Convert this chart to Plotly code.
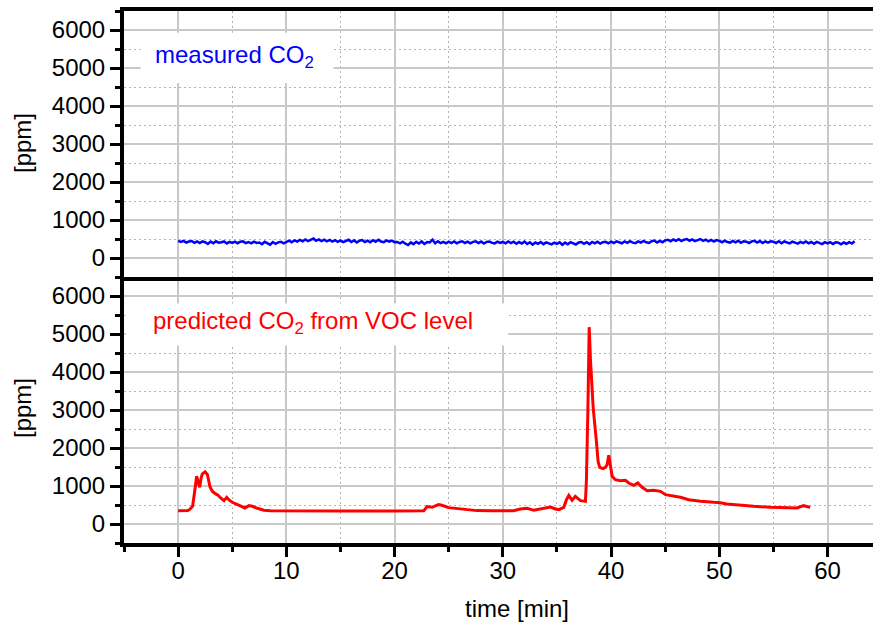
import numpy as np
import plotly.graph_objects as go

# ---------------- data ----------------
# measured CO2 (top panel), sampled every 0.25 min from 0 to 62.5 min
meas_t = [i * 0.25 for i in range(251)]
meas_ppm = [
    450, 422, 451, 408, 435, 447, 400, 438, 392, 436, 415, 370, 431, 388, 440, 402, 415, 436, 384, 425,
    398, 432, 389, 427, 438, 392, 421, 385, 430, 396, 408, 362, 425, 380, 352, 420, 374, 411, 428, 385,
    432, 458, 416, 465, 430, 478, 442, 486, 445, 480, 512, 452, 490, 445, 482, 438, 476, 430, 468, 425,
    462, 418, 456, 480, 422, 465, 408, 455, 472, 420, 458, 415, 468, 426, 480, 432, 415, 462, 428, 456,
    418, 422, 388, 430, 376, 340, 412, 366, 425, 382, 435, 370, 418, 408, 482, 385, 438, 392, 425, 388,
    428, 392, 435, 386, 422, 440, 395, 430, 388, 425, 438, 392, 432, 380, 424, 436, 398, 385, 430, 395,
    422, 386, 435, 390, 428, 375, 420, 382, 430, 368, 415, 352, 408, 376, 422, 365, 412, 380, 358, 405,
    370, 412, 348, 405, 362, 416, 378, 355, 408, 420, 372, 414, 365, 422, 386, 430, 378, 415, 425, 388,
    430, 395, 438, 402, 388, 435, 400, 442, 405, 392, 438, 408, 450, 412, 395, 440, 458, 410, 448, 415,
    465, 480, 438, 486, 452, 495, 448, 482, 500, 455, 488, 442, 480, 498, 450, 485, 440, 478, 435, 472,
    450, 415, 458, 420, 405, 448, 412, 455, 400, 442, 430, 395, 438, 452, 408, 445, 392, 436, 402, 440,
    428, 395, 440, 388, 435, 402, 385, 430, 398, 378, 425, 392, 436, 386, 420, 375, 422, 388, 365, 415,
    382, 418, 370, 412, 405, 362, 408, 375, 416, 380, 440,
]

# predicted CO2 from VOC level (bottom panel)
pred_t = [
    0, 0.5, 0.9, 1.1, 1.34, 1.55, 1.71, 1.85, 1.99, 2.12, 2.24, 2.49, 2.7, 2.95, 3.16, 3.47, 3.69,
    3.93, 4.24, 4.49, 4.7, 5.0, 5.47, 5.93, 6.17, 6.54, 6.85, 7.31, 7.92, 8.54, 10, 15, 20, 22.7,
    23.0, 23.45, 24.06, 24.37, 24.99, 25.76, 26.7, 27.6, 29, 31.0, 31.6, 32.25, 32.86, 33.48, 34.1,
    34.4, 34.86, 35.17, 35.63, 35.88, 36.1, 36.4, 36.7, 37.17, 37.63, 37.72, 37.85, 37.98, 38.1,
    38.35, 38.64, 38.8, 38.95, 39.26, 39.48, 39.63, 39.79, 39.94, 40.1, 40.4, 40.86, 41.33, 41.63,
    42.1, 42.47, 42.87, 43.33, 43.95, 44.56, 45.03, 45.64, 46.41, 47.18, 48.26, 49.49, 50.1, 50.7,
    51.94, 53.17, 54.71, 56.25, 57.17, 57.79, 58.4,
]
pred_ppm = [
    350, 350, 355, 390, 470, 900, 1258, 1100, 968, 1200, 1320, 1373, 1302, 977, 862, 792, 757,
    686, 616, 704, 634, 572, 510, 449, 422, 484, 466, 414, 361, 350, 345, 345, 345, 350,
    458, 440, 510, 493, 431, 405, 370, 352, 350, 351, 395, 412, 360, 395, 421,
    447, 395, 377, 438, 640, 754, 623, 728, 614, 596, 1123, 2877, 5180, 4300,
    3050, 2190, 1650, 1491, 1456, 1491, 1561, 1807, 1473, 1254, 1166, 1140, 1149, 1079,
    1017, 1079, 965, 877, 886, 859, 772, 745, 702, 640, 596, 570, 561, 526,
    491, 465, 438, 430, 421, 482, 438,
]

x_range = [-5, 64.2]
y_range = [-500, 6500]
x_ticks = [0, 10, 20, 30, 40, 50, 60]
y_ticks = [0, 1000, 2000, 3000, 4000, 5000, 6000]

# ---------------- figure ----------------
FONT = "Arial, 'Liberation Sans', sans-serif"
GRID = "#c8c8c8"
MINOR_GRID = "#b4b4b4"

fig = go.Figure()
fig.add_trace(go.Scatter(x=meas_t, y=meas_ppm, mode="lines", xaxis="x2", yaxis="y2",
                         line=dict(color="#0000ff", width=2.5), showlegend=False))
fig.add_trace(go.Scatter(x=pred_t, y=pred_ppm, mode="lines", xaxis="x", yaxis="y",
                         line=dict(color="#ff0000", width=3), showlegend=False))

split = 0.5

def xaxis(anchor, labels, mirror):
    return dict(
        domain=[0, 1], anchor=anchor, range=x_range,
        tickmode="array", tickvals=x_ticks, ticktext=[str(v) for v in x_ticks],
        showticklabels=labels, ticklabelstandoff=-7 if labels else 0,
        ticks="outside" if labels else "", ticklen=10, tickwidth=3, tickcolor="black",
        showline=True, mirror=mirror, linecolor="black", linewidth=4,
        showgrid=True, gridcolor=GRID, gridwidth=1.5, zeroline=False,
        minor=dict(dtick=5, tick0=0, ticks="outside" if labels else "", ticklen=5, tickwidth=3,
                   tickcolor="black", showgrid=True, gridcolor=MINOR_GRID, gridwidth=1.3,
                   griddash="2px,3px"),
        tickfont=dict(family=FONT, size=24, color="black"),
    )

def yaxis(anchor, domain):
    return dict(
        domain=domain, anchor=anchor, range=y_range,
        tickmode="array", tickvals=y_ticks, ticktext=[str(v) for v in y_ticks],
        ticks="outside", ticklen=10, tickwidth=3, tickcolor="black",
        showline=True, mirror=False, linecolor="black", linewidth=4,
        showgrid=True, gridcolor=GRID, gridwidth=1.5, zeroline=False,
        minor=dict(dtick=500, tick0=0, ticks="outside", ticklen=5, tickwidth=3,
                   tickcolor="black", showgrid=True, gridcolor=MINOR_GRID, gridwidth=1.3,
                   griddash="2px,3px"),
        tickfont=dict(family=FONT, size=24, color="black"),
    )

fig.update_layout(
    width=873, height=623,
    margin=dict(l=124, r=0, t=11, b=80),
    paper_bgcolor="white", plot_bgcolor="white",
    xaxis=xaxis("y", True, False),
    yaxis=yaxis("x", [0, split]),
    xaxis2=dict(xaxis("y2", False, True), matches="x"),
    yaxis2=yaxis("x2", [split, 1]),
    font=dict(family=FONT, size=24, color="black"),
)

# white boxes behind the panel labels
fig.add_shape(type="rect", xref="x2", yref="y2", x0=-3.46, x1=14.36, y0=4603, y1=5926,
              fillcolor="white", line=dict(width=0), layer="above")
fig.add_shape(type="rect", xref="x", yref="y", x0=-4.85, x1=30.5, y0=4697, y1=5805,
              fillcolor="white", line=dict(width=0), layer="above")

fig.add_annotation(text="measured CO<sub>2</sub>", xref="x2", yref="y2", x=-2.3, y=5300,
                   xanchor="left", yanchor="middle", showarrow=False,
                   font=dict(family=FONT, size=24, color="#0000ff"))
fig.add_annotation(text="predicted CO<sub>2</sub> from VOC level", xref="x", yref="y", x=-2.5, y=5290,
                   xanchor="left", yanchor="middle", showarrow=False,
                   font=dict(family=FONT, size=24, color="#ff0000"))

# axis titles
fig.add_annotation(text="[ppm]", xref="paper", yref="paper", x=(22 - 124) / 749, y=(543 - 143) / 532,
                   xanchor="center", yanchor="middle", textangle=-90, showarrow=False,
                   font=dict(family=FONT, size=24, color="black"))
fig.add_annotation(text="[ppm]", xref="paper", yref="paper", x=(22 - 124) / 749, y=(543 - 408) / 532,
                   xanchor="center", yanchor="middle", textangle=-90, showarrow=False,
                   font=dict(family=FONT, size=24, color="black"))
fig.add_annotation(text="time [min]", xref="paper", yref="paper", x=(517 - 124) / 749, y=(543 - 608) / 532,
                   xanchor="center", yanchor="middle", showarrow=False,
                   font=dict(family=FONT, size=24, color="black"))

fig.write_html("out.html", config={"displayModeBar": False},
               post_script="document.body.style.margin='0';document.body.style.overflow='hidden';")
